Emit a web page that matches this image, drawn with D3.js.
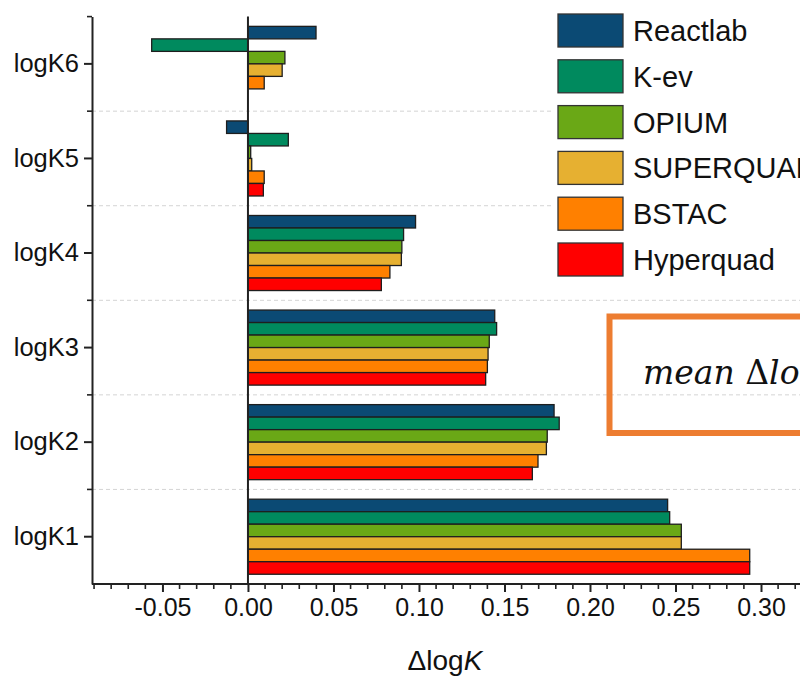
<!DOCTYPE html>
<html>
<head>
<meta charset="utf-8">
<script src="https://cdn.jsdelivr.net/npm/d3@7"></script>
<style>
  html, body { margin: 0; padding: 0; background: #fff; overflow: hidden; }
  svg { display: block; }
  text { font-family: "Liberation Sans", Arial, sans-serif; fill: #111; }
  text.note { font-family: "DejaVu Serif", serif; }
</style>
</head>
<body>
<svg id="chart" width="800" height="676"></svg>
<script>
// Stability-constant categories (top of the chart shows logK6)
const categories = ["logK1", "logK2", "logK3", "logK4", "logK5", "logK6"];

// Programs compared, in drawing order within each group (top to bottom)
const programs = ["Reactlab", "K-ev", "OPIUM", "SUPERQUAD", "BSTAC", "Hyperquad"];
const programColors = ["#0b4a74", "#008a5e", "#6aa816", "#e6b031", "#ff8000", "#ff0000"];

// Δlog K per category (logK1 .. logK6) for each program
const reactlab  = [0.2454, 0.1790, 0.1443, 0.0980, -0.0125, 0.0398];
const kev       = [0.2466, 0.1820, 0.1454, 0.0910, 0.0236, -0.0563];
const opium     = [0.2534, 0.1750, 0.1411, 0.0900, 0.0016, 0.0216];
const superquad = [0.2534, 0.1745, 0.1404, 0.0897, 0.0022, 0.0200];
const bstac     = [0.2934, 0.1696, 0.1400, 0.0830, 0.0095, 0.0095];
const hyperquad = [0.2934, 0.1663, 0.1390, 0.0780, 0.0090, null];

// Axis ticks
const xMajorTicks = [-0.05, 0.00, 0.05, 0.10, 0.15, 0.20, 0.25, 0.30];
const xTickLabels = ["-0.05", "0.00", "0.05", "0.10", "0.15", "0.20", "0.25", "0.30"];

const seriesValues = [reactlab, kev, opium, superquad, bstac, hyperquad];

const svg = d3.select("#chart");
const axisColor = "#222";

const x = d3.scaleLinear().domain([-0.0912, 0.325]).range([92, 248 + 0.325 * 1710]);
const y = d3.scaleBand().domain(categories.slice().reverse()).range([16.6, 584]).paddingInner(0).paddingOuter(0);
const yInner = d3.scaleBand().domain(programs).range([0, y.bandwidth()]).paddingInner(0).paddingOuter(0.78);

const xLeft = x.range()[0];
const yBottom = y.range()[1];

// dashed grid lines at category boundaries
const boundaries = categories.slice(0, 5).map(c => y(c));
svg.append("g").selectAll("line").data(boundaries).join("line")
  .attr("x1", xLeft).attr("x2", 800)
  .attr("y1", d => d).attr("y2", d => d)
  .attr("stroke", "#d4d4d4").attr("stroke-width", 1).attr("stroke-dasharray", "4,3");

// bars
const rows = [];
categories.forEach((cat, ci) => {
  programs.forEach((p, pi) => {
    const v = seriesValues[pi][ci];
    if (v !== null) rows.push({ cat, p, pi, v });
  });
});
svg.append("g").selectAll("rect").data(rows).join("rect")
  .attr("x", d => x(Math.min(0, d.v)))
  .attr("width", d => Math.abs(x(d.v) - x(0)))
  .attr("y", d => y(d.cat) + yInner(d.p))
  .attr("height", yInner.bandwidth())
  .attr("fill", d => programColors[d.pi])
  .attr("stroke", "#1e1e1e").attr("stroke-width", 1.3);

// zero line
svg.append("line")
  .attr("x1", x(0)).attr("x2", x(0))
  .attr("y1", y.range()[0]).attr("y2", yBottom)
  .attr("stroke", axisColor).attr("stroke-width", 2);

// x axis
const xAxis = d3.axisBottom(x)
  .tickValues(xMajorTicks)
  .tickFormat((d, i) => xTickLabels[i])
  .tickSize(8).tickSizeOuter(0).tickPadding(4);
const gx = svg.append("g").attr("transform", `translate(0,${yBottom})`).call(xAxis);
gx.select(".domain").attr("stroke", axisColor).attr("stroke-width", 2).attr("d", `M${xLeft},0H800`);
gx.selectAll(".tick line").attr("stroke", axisColor).attr("stroke-width", 2);
gx.selectAll(".tick text").attr("font-size", 25).attr("fill", "#111").attr("dy", "0.78em");
const xMinor = d3.range(-9, 33).map(k => k / 100).filter(v => Math.abs(v * 20 - Math.round(v * 20)) > 1e-6);
gx.append("g").selectAll("line").data(xMinor).join("line")
  .attr("x1", d => x(d)).attr("x2", d => x(d))
  .attr("y1", 0).attr("y2", 5)
  .attr("stroke", axisColor).attr("stroke-width", 1.6);

// y axis
const yAxis = d3.axisLeft(y).tickSize(8).tickSizeOuter(0).tickPadding(5);
const gy = svg.append("g").attr("transform", `translate(${xLeft},0)`).call(yAxis);
gy.select(".domain").attr("stroke", axisColor).attr("stroke-width", 2);
gy.selectAll(".tick line").attr("stroke", axisColor).attr("stroke-width", 2);
gy.selectAll(".tick text").attr("font-size", 25.5).attr("fill", "#111");
gy.append("g").selectAll("line").data([y.range()[0]].concat(boundaries)).join("line")
  .attr("x1", -5).attr("x2", 0)
  .attr("y1", d => d).attr("y2", d => d)
  .attr("stroke", axisColor).attr("stroke-width", 1.6);

// x axis title
const title = svg.append("text")
  .attr("x", 445).attr("y", 670)
  .attr("text-anchor", "middle").attr("font-size", 28);
title.append("tspan").text("Δlog");
title.append("tspan").attr("font-style", "italic").text("K");

// legend
const legend = svg.append("g").attr("transform", "translate(558,14)");
const item = legend.selectAll("g").data(programs).join("g")
  .attr("transform", (d, i) => `translate(0,${i * 45.8})`);
item.append("rect").attr("x", -4).attr("y", -4).attr("width", 260).attr("height", 41).attr("fill", "#fff");
item.append("rect").attr("width", 65).attr("height", 33)
  .attr("fill", (d, i) => programColors[i])
  .attr("stroke", "#333").attr("stroke-width", 1.3);
item.append("text").attr("x", 75).attr("y", 27).attr("font-size", 29).text(d => d);

// annotation box
svg.append("rect")
  .attr("x", 609.5).attr("y", 316.5).attr("width", 260).attr("height", 116.5)
  .attr("fill", "none").attr("stroke", "#ed7d31").attr("stroke-width", 6);
const note = svg.append("text").attr("class", "note")
  .attr("x", 643).attr("y", 384)
  .attr("font-size", 33);
note.append("tspan").attr("font-style", "italic").text("mean ");
note.append("tspan").text("Δ");
note.append("tspan").attr("font-style", "italic").text("logK");
</script>
</body>
</html>
